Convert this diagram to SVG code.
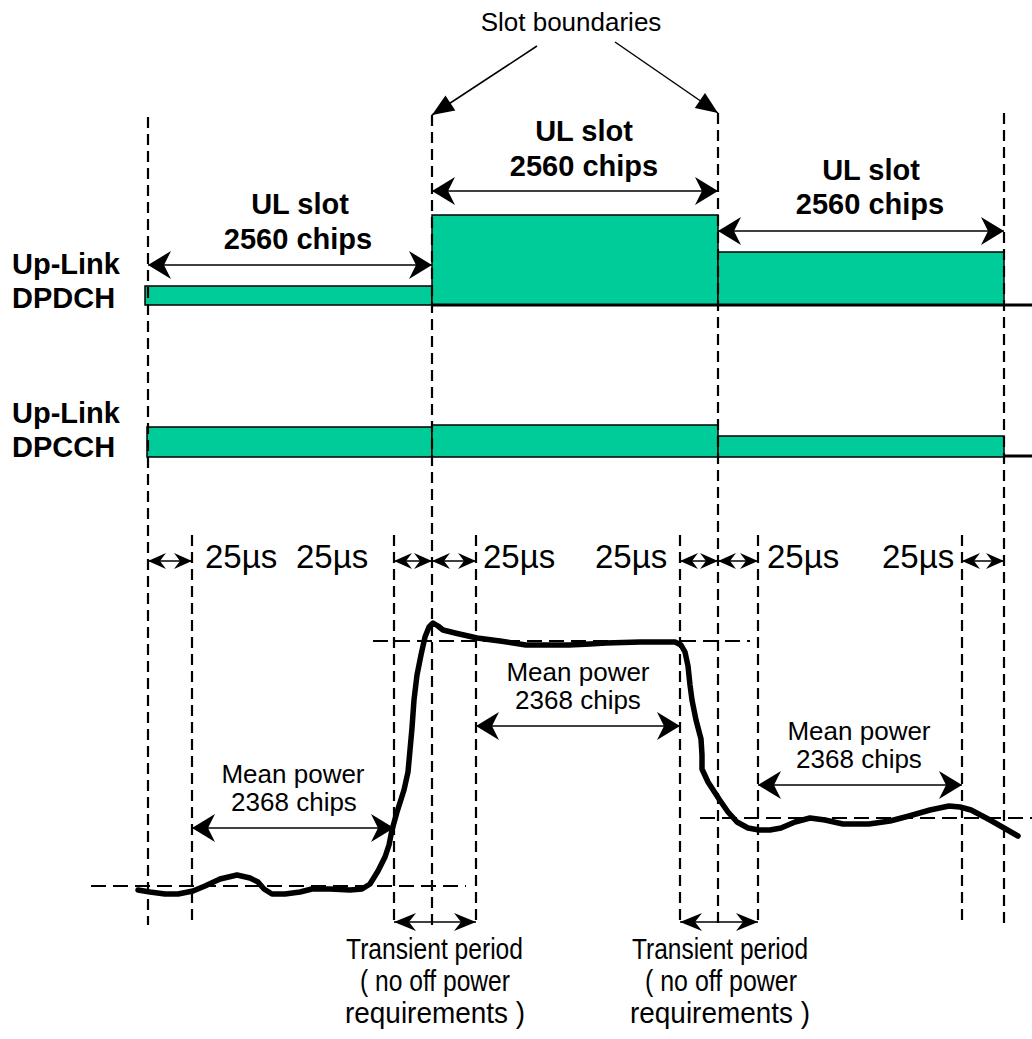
<svg xmlns="http://www.w3.org/2000/svg" width="1032" height="1039" viewBox="0 0 1032 1039">
<style>
  .bold { font-family: "Liberation Sans", Arial, sans-serif; font-weight: bold; font-size: 29px; fill: #000; }
  .reg { font-family: "Liberation Sans", Arial, sans-serif; font-size: 26px; fill: #000; }
  .us { font-family: "Liberation Sans", Arial, sans-serif; font-size: 33px; fill: #000; }
  .slotb { font-family: "Liberation Sans", Arial, sans-serif; font-size: 26px; fill: #000; }
  .narrow { font-family: "Liberation Sans", Arial, sans-serif; font-size: 29px; fill: #000; }
  .vdash { stroke: #000; stroke-width: 2.2; stroke-dasharray: 11 6; fill: none; }
  .hdash { stroke: #000; stroke-width: 2; stroke-dasharray: 15 7; fill: none; }
  .chan { fill: #00CC99; stroke: #000; stroke-width: 1.5; }
  .base { stroke: #000; stroke-width: 3; fill: none; }
  .dim { stroke: #000; stroke-width: 1.5; fill: none; }
  .curve { stroke: #000; stroke-width: 5.5; fill: none; stroke-linejoin: round; stroke-linecap: round; }
</style>
<defs>
  <marker id="big" markerUnits="userSpaceOnUse" viewBox="-1 -15 25 30" markerWidth="25" markerHeight="30" refX="23" refY="0" orient="auto-start-reverse">
    <path d="M0,-14 L23,0 L0,14 L7,0 Z" fill="#000"/>
  </marker>
  <marker id="mid" markerUnits="userSpaceOnUse" viewBox="-1 -10 24 20" markerWidth="24" markerHeight="20" refX="22" refY="0" orient="auto-start-reverse">
    <path d="M0,-9 L22,0 L0,9 L7,0 Z" fill="#000"/>
  </marker>
  <marker id="small" markerUnits="userSpaceOnUse" viewBox="-1 -9 20 18" markerWidth="20" markerHeight="18" refX="18" refY="0" orient="auto-start-reverse">
    <path d="M0,-8 L18,0 L0,8 L6,0 Z" fill="#000"/>
  </marker>
  <marker id="tri" markerUnits="userSpaceOnUse" viewBox="-1 -10 24 20" markerWidth="24" markerHeight="20" refX="22" refY="0" orient="auto">
    <path d="M0,-9 L22,0 L0,9 Z" fill="#000"/>
  </marker>
</defs>

<g id="labels">
  <g id="label-dpdch">
    <text class="bold" x="12" y="274">Up-Link</text>
    <text class="bold" x="12" y="308">DPDCH</text>
  </g>
  <g id="label-dpcch">
    <text class="bold" x="12" y="423">Up-Link</text>
    <text class="bold" x="12" y="457">DPCCH</text>
  </g>
</g>

<g id="dpdch">
  <rect class="chan" x="145" y="286" width="287" height="19"/>
  <rect class="chan" x="432" y="215" width="286" height="90"/>
  <rect class="chan" x="718" y="252" width="286" height="53"/>
  <line class="base" x1="432" y1="305" x2="1032" y2="305"/>
</g>

<g id="dpcch">
  <rect class="chan" x="147" y="427" width="285" height="30"/>
  <rect class="chan" x="432" y="425" width="286" height="32"/>
  <rect class="chan" x="718" y="436" width="286" height="21"/>
  <line class="base" x1="1004" y1="456" x2="1032" y2="456"/>
</g>

<g id="gridlines">
  <line class="vdash" x1="148" y1="117" x2="148" y2="925"/>
  <line class="vdash" x1="432" y1="115" x2="432" y2="925"/>
  <line class="vdash" x1="718" y1="113" x2="718" y2="925"/>
  <line class="vdash" x1="1004" y1="113" x2="1004" y2="925"/>
  <line class="vdash" x1="192" y1="535" x2="192" y2="925"/>
  <line class="vdash" x1="394" y1="535" x2="394" y2="925"/>
  <line class="vdash" x1="476" y1="535" x2="476" y2="925"/>
  <line class="vdash" x1="680" y1="535" x2="680" y2="925"/>
  <line class="vdash" x1="758" y1="535" x2="758" y2="925"/>
  <line class="vdash" x1="962" y1="535" x2="962" y2="925"/>
  <line class="hdash" x1="373" y1="641" x2="750" y2="641"/>
  <line class="hdash" x1="91" y1="886" x2="466" y2="886"/>
  <line class="hdash" x1="700" y1="818" x2="1032" y2="818"/>
</g>

<g id="slot-boundaries">
  <text class="slotb" x="571" y="31" text-anchor="middle">Slot boundaries</text>
</g>

<g id="slot-labels">
  <g id="slot1">
    <text class="bold" x="300" y="214" text-anchor="middle">UL slot</text>
    <text class="bold" x="298" y="249" text-anchor="middle">2560 chips</text>
  </g>
  <g id="slot2">
    <text class="bold" x="584" y="141" text-anchor="middle">UL slot</text>
    <text class="bold" x="584" y="176" text-anchor="middle">2560 chips</text>
  </g>
  <g id="slot3">
    <text class="bold" x="871" y="180" text-anchor="middle">UL slot</text>
    <text class="bold" x="870" y="214" text-anchor="middle">2560 chips</text>
  </g>
</g>

<g id="us-labels">
  <text class="us" x="205" y="568">25µs</text>
  <text class="us" x="296" y="568">25µs</text>
  <text class="us" x="483" y="568">25µs</text>
  <text class="us" x="595" y="568">25µs</text>
  <text class="us" x="767" y="568">25µs</text>
  <text class="us" x="882" y="568">25µs</text>
</g>

<g id="mean-power-labels">
  <g id="mp1">
    <text class="reg" x="293" y="783" text-anchor="middle">Mean power</text>
    <text class="reg" x="294" y="811" text-anchor="middle">2368 chips</text>
  </g>
  <g id="mp2">
    <text class="reg" x="578" y="681" text-anchor="middle">Mean power</text>
    <text class="reg" x="578" y="709" text-anchor="middle">2368 chips</text>
  </g>
  <g id="mp3">
    <text class="reg" x="859" y="740" text-anchor="middle">Mean power</text>
    <text class="reg" x="859" y="768" text-anchor="middle">2368 chips</text>
  </g>
</g>

<g id="transient-labels">
  <g id="tp1">
    <text class="narrow" x="346" y="959" textLength="177" lengthAdjust="spacingAndGlyphs">Transient period</text>
    <text class="narrow" x="360" y="991" textLength="150" lengthAdjust="spacingAndGlyphs">( no off power</text>
    <text class="narrow" x="345" y="1023" textLength="180" lengthAdjust="spacingAndGlyphs">requirements )</text>
  </g>
  <g id="tp2">
    <text class="narrow" x="632" y="959" textLength="176" lengthAdjust="spacingAndGlyphs">Transient period</text>
    <text class="narrow" x="645" y="991" textLength="152" lengthAdjust="spacingAndGlyphs">( no off power</text>
    <text class="narrow" x="630" y="1023" textLength="180" lengthAdjust="spacingAndGlyphs">requirements )</text>
  </g>
</g>

<g id="power-curve">
  <polyline class="curve" points="138,890 150,892 165,894 178,894 193,891 205,886 220,879 237,875 250,878 258,882 264,889 272,894 285,894 300,892 312,889 330,889 350,890 362,889 370,884 378,871 385,857 389,845 392,830 397,812 404,790 408,772 410,750 412,728 414,700 417,675 421,655 425,637 429,627 433,623 438,626 443,630 455,633 477,638 500,641 526,645 550,645 569,645 590,644 606,643 640,642 675,642 681,645 685,652 688,666 690,685 692,700 696,720 701,739 702,755 702,769 708,782 719,799 728,812 737,822 748,828 759,830 770,830 781,828 795,822 810,818 825,820 843,824 869,824 890,821 909,816 930,810 949,806 960,807 971,810 990,820 1018,836"/>
</g>

<g id="connectors">
  <line class="dim" x1="537" y1="46" x2="432" y2="115" marker-end="url(#tri)"/>
  <line class="dim" x1="615" y1="42" x2="718" y2="113" marker-end="url(#tri)"/>
  <line class="dim" x1="148" y1="265" x2="432" y2="265" marker-start="url(#big)" marker-end="url(#big)"/>
  <line class="dim" x1="432" y1="191" x2="718" y2="191" marker-start="url(#big)" marker-end="url(#big)"/>
  <line class="dim" x1="718" y1="231" x2="1004" y2="231" marker-start="url(#big)" marker-end="url(#big)"/>
  <line class="dim" x1="148" y1="561" x2="192" y2="561" marker-start="url(#small)" marker-end="url(#small)"/>
  <line class="dim" x1="394" y1="561" x2="432" y2="561" marker-start="url(#small)" marker-end="url(#small)"/>
  <line class="dim" x1="432" y1="561" x2="476" y2="561" marker-start="url(#small)" marker-end="url(#small)"/>
  <line class="dim" x1="680" y1="561" x2="718" y2="561" marker-start="url(#small)" marker-end="url(#small)"/>
  <line class="dim" x1="718" y1="561" x2="758" y2="561" marker-start="url(#small)" marker-end="url(#small)"/>
  <line class="dim" x1="962" y1="561" x2="1004" y2="561" marker-start="url(#small)" marker-end="url(#small)"/>
  <line class="dim" x1="192" y1="828" x2="394" y2="828" marker-start="url(#big)" marker-end="url(#big)"/>
  <line class="dim" x1="476" y1="726" x2="680" y2="726" marker-start="url(#big)" marker-end="url(#big)"/>
  <line class="dim" x1="758" y1="785" x2="962" y2="785" marker-start="url(#big)" marker-end="url(#big)"/>
  <line class="dim" x1="394" y1="922" x2="476" y2="922" marker-start="url(#mid)" marker-end="url(#mid)"/>
  <line class="dim" x1="680" y1="922" x2="758" y2="922" marker-start="url(#mid)" marker-end="url(#mid)"/>
</g>
</svg>
